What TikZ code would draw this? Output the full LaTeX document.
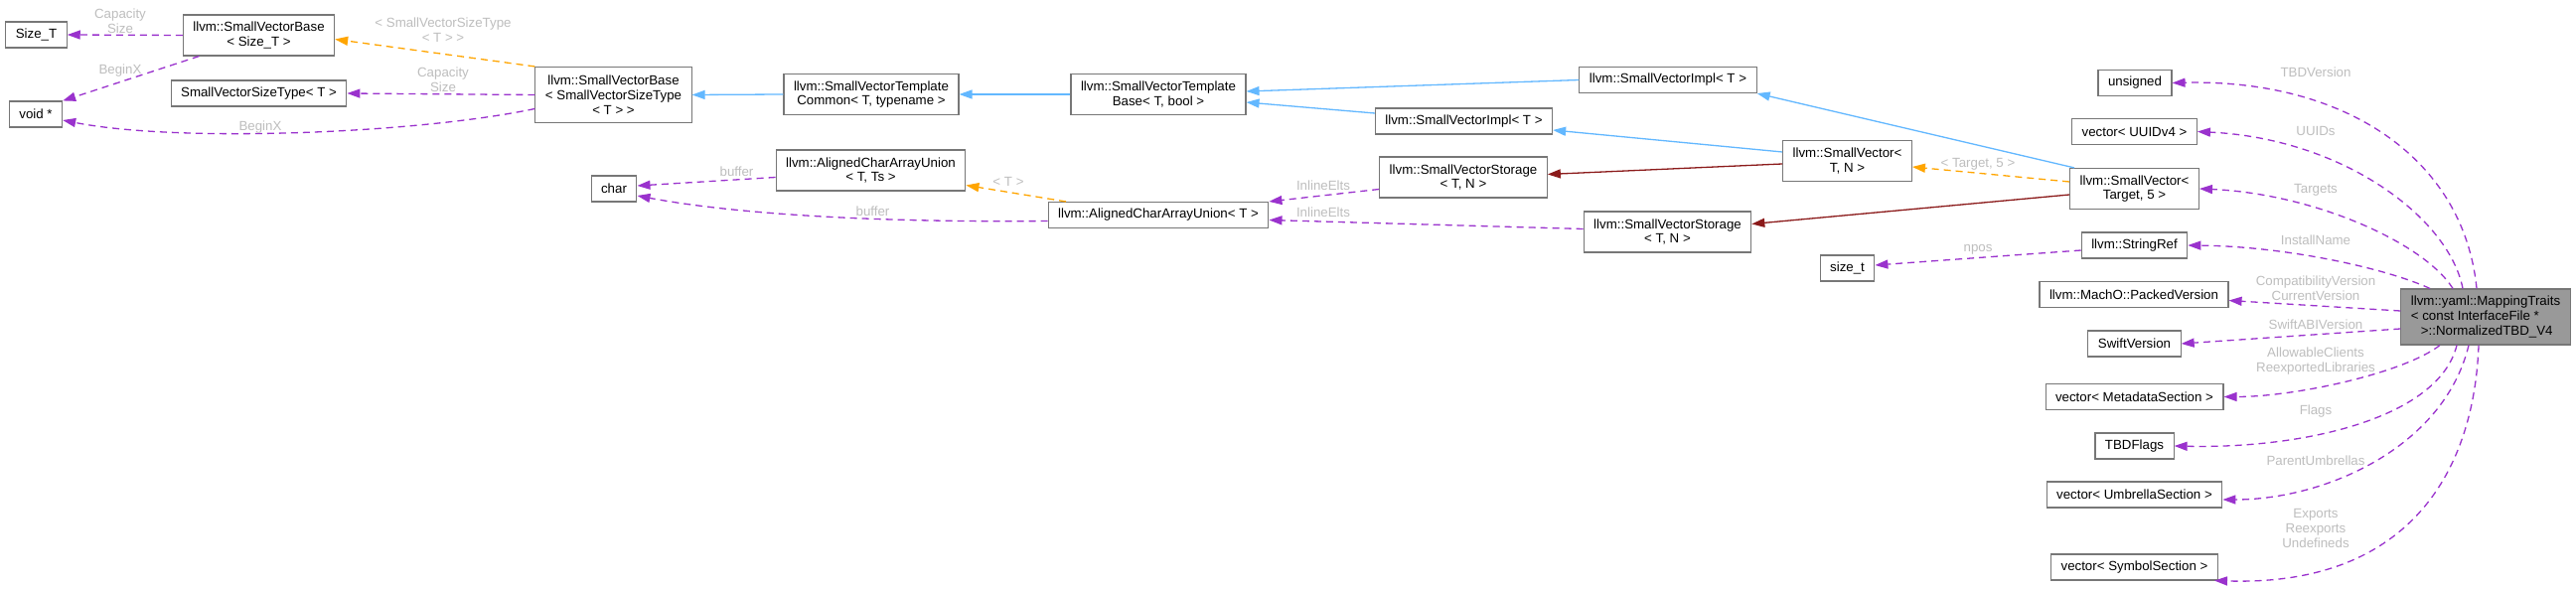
\documentclass[tikz,border=0pt]{standalone}
\usepackage{fontspec}
\setmainfont{Liberation Sans}
\usepackage{xcolor}
\usetikzlibrary{arrows.meta}
\definecolor{dpurple}{HTML}{9A32CD}
\definecolor{dblue}{HTML}{63B8FF}
\definecolor{dorange}{HTML}{FFA500}
\definecolor{dred}{HTML}{8B1A1A}
\definecolor{dframe}{HTML}{777777}
\definecolor{dlabel}{HTML}{BEBEBE}
\definecolor{dmain}{HTML}{999999}
\tikzset{
  cls/.style={draw=dframe, fill=white, line width=1.1pt, inner xsep=10pt, inner ysep=1pt,
    minimum height=26pt, align=center, font=\fontsize{13.3}{14.7}\selectfont},
  cls2/.style={cls, minimum height=41pt},
  cls3/.style={cls, minimum height=56pt},
  lbl/.style={text=dlabel, align=center, inner sep=0pt, font=\fontsize{13.3}{14.7}\selectfont},
  hd/.style={-{Triangle[length=13pt,width=9pt]}},
  uses/.style={hd, dpurple, line width=1.3pt, dash pattern=on 7pt off 5pt},
  tmpl/.style={hd, dorange, line width=1.3pt, dash pattern=on 7pt off 5pt},
  inh/.style={hd, dblue, line width=1.3pt},
  priv/.style={hd, dred, line width=1.3pt}
}
\begin{document}
\begin{tikzpicture}[x=1pt, y=-1pt]
\useasboundingbox (0,0) rectangle (2593,593);
\fill[white] (0,0) rectangle (2593,593);
% classes
\node[cls] (sizeT) at (36.5,35) {Size\_T};
\node[cls2] (svbS) at (260.5,35.5) {llvm::SmallVectorBase\\< Size\_T >};
\node[cls] (voidp) at (36,115) {void *};
\node[cls] (svst) at (260.5,94) {SmallVectorSizeType< T >};
\node[cls3] (svbB) at (617.5,95.5) {llvm::SmallVectorBase\\< SmallVectorSizeType\\< T > >};
\node[cls] (chr) at (618,190) {char};
\node[cls2] (common) at (877,95) {llvm::SmallVectorTemplate\\Common< T, typename >};
\node[cls2] (tbase) at (1166,95) {llvm::SmallVectorTemplate\\Base< T, bool >};
\node[cls2] (acauTs) at (876.5,171.5) {llvm::AlignedCharArrayUnion\\< T, Ts >};
\node[cls] (acauT) at (1166,216.5) {llvm::AlignedCharArrayUnion< T >};
\node[cls] (implA) at (1679,80.5) {llvm::SmallVectorImpl< T >};
\node[cls] (implB) at (1473.5,122) {llvm::SmallVectorImpl< T >};
\node[cls2] (storA) at (1473,178.5) {llvm::SmallVectorStorage\\< T, N >};
\node[cls2] (svTN) at (1859.5,162) {llvm::SmallVector<\\T, N >};
\node[cls2] (storB) at (1678.5,233.5) {llvm::SmallVectorStorage\\< T, N >};
\node[cls] (sizet) at (1859.5,270) {size\_t};
\node[cls] (uns) at (2149,83.5) {unsigned};
\node[cls] (uuid) at (2148.5,132.5) {vector< UUIDv4 >};
\node[cls2] (svTg) at (2148.5,190) {llvm::SmallVector<\\Target, 5 >};
\node[cls] (sref) at (2148.5,247) {llvm::StringRef};
\node[cls] (pver) at (2148,296.5) {llvm::MachO::PackedVersion};
\node[cls] (swv) at (2148.5,346) {SwiftVersion};
\node[cls] (meta) at (2148.5,399.5) {vector< MetadataSection >};
\node[cls] (flags) at (2148.5,449) {TBDFlags};
\node[cls] (umb) at (2148.5,498) {vector< UmbrellaSection >};
\node[cls] (sym) at (2148.5,571) {vector< SymbolSection >};
\node[cls3, fill=dmain, align=left] (map) at (2502,319)
  {llvm::yaml::MappingTraits\\< const InterfaceFile *\\\hspace*{10pt}>::NormalizedTBD\_V4};
% left part
\draw[uses] (svbS.west) -- (sizeT.east);
\draw[uses] ([xshift=-60pt]svbS.south) -- (voidp.north east);
\draw[tmpl] (svbB.north west) -- ([yshift=-4pt]svbS.east);
\draw[uses] (svbB.west) -- (svst.east);
\draw[uses] ([yshift=-14pt]svbB.west) .. controls +(-119,25) and +(117,23) .. ([yshift=-6pt]voidp.east);
\draw[inh] (common.west) -- (svbB.east);
\draw[inh] (tbase.west) -- (common.east);
\draw[inh] (implA.west) -- ([yshift=3pt]tbase.east);
\draw[inh] ([yshift=8pt]implB.west) -- ([yshift=-8pt]tbase.east);
\draw[inh] ([yshift=9pt]svTN.west) -- ([yshift=-9pt]implB.east);
\draw[priv] ([yshift=-3pt]svTN.west) -- ([yshift=3pt]storA.east);
\draw[tmpl] ([yshift=7pt]svTg.west) -- ([yshift=-6pt]svTN.east);
\draw[inh] ([xshift=5pt]svTg.north west) -- (implA.south east);
\draw[priv] ([yshift=-6pt]svTg.west) -- ([yshift=8pt]storB.east);
\draw[uses] ([yshift=-12pt]storA.west) -- (acauT.north east);
\draw[uses] ([yshift=3pt]storB.west) -- ([yshift=-5pt]acauT.east);
\draw[tmpl] ([xshift=-93pt]acauT.north) -- ([yshift=-15pt]acauTs.east);
\draw[uses] ([yshift=-7pt]acauTs.west) -- ([yshift=3pt]chr.east);
\draw[uses] ([yshift=-6pt]acauT.west) .. controls +(-205,2) and +(79,15) .. ([yshift=-7pt]chr.east);
\draw[uses] ([yshift=-5pt]sref.west) -- ([yshift=3pt]sizet.east);
% members of map
\draw[uses] ([xshift=-9pt]map.north) .. controls +(-13,-131) and +(174,-4) .. (uns.east);
\draw[uses] ([xshift=-23pt]map.north) .. controls +(-14,-71) and +(147,7) .. (uuid.east);
\draw[uses] ([xshift=-33pt]map.north) .. controls +(-29,-46) and +(115,5) .. (svTg.east);
\draw[uses] ([xshift=-56pt]map.north) .. controls +(-46,-21) and +(97,1) .. (sref.east);
\draw[uses] ([yshift=6pt]map.west) -- ([yshift=-6pt]pver.east);
\draw[uses] ([yshift=-12pt]map.west) -- (swv.east);
\draw[uses] ([xshift=-46pt]map.south) .. controls +(-36,28) and +(72,0) .. (meta.east);
\draw[uses] ([xshift=-29pt]map.south) .. controls +(-18,73) and +(131,3) .. (flags.east);
\draw[uses] ([xshift=-17pt]map.south) .. controls +(-25,103) and +(103,0) .. ([yshift=-5pt]umb.east);
\draw[uses] ([xshift=-7pt]map.south) .. controls +(-5,133) and +(191,6) .. ([xshift=-4pt]sym.south east);
% labels
\node[lbl] (lCapS) at (121,21) {Capacity\\Size};
\node[lbl] (lBegS) at (121,71) {BeginX};
\node[lbl] (lSvst) at (446,30.5) {< SmallVectorSizeType\\< T > >};
\node[lbl] (lCapB) at (446,80.5) {Capacity\\Size};
\node[lbl] (lBegB) at (262,128) {BeginX};
\node[lbl] (lBufA) at (741.5,173) {buffer};
\node[lbl] (lBufB) at (878.5,213) {buffer};
\node[lbl] (lT) at (1015,183) {< T >};
\node[lbl] (lInA) at (1332,187) {InlineElts};
\node[lbl] (lInB) at (1332,214) {InlineElts};
\node[lbl] (lTg) at (1991,165) {< Target, 5 >};
\node[lbl] (lNpos) at (1991,251) {npos};
\node[lbl] (lTbd) at (2331,73) {TBDVersion};
\node[lbl] (lUuid) at (2331,132) {UUIDs};
\node[lbl] (lTgts) at (2331,191) {Targets};
\node[lbl] (lInst) at (2331,242) {InstallName};
\node[lbl] (lVer) at (2331,290) {CompatibilityVersion\\CurrentVersion};
\node[lbl] (lSwift) at (2331,327) {SwiftABIVersion};
\node[lbl] (lAllow) at (2331,363.5) {AllowableClients\\ReexportedLibraries};
\node[lbl] (lFlags) at (2331,414) {Flags};
\node[lbl] (lUmb) at (2331,464) {ParentUmbrellas};
\node[lbl] (lExp) at (2331,532) {Exports\\Reexports\\Undefineds};
\end{tikzpicture}
\end{document}
